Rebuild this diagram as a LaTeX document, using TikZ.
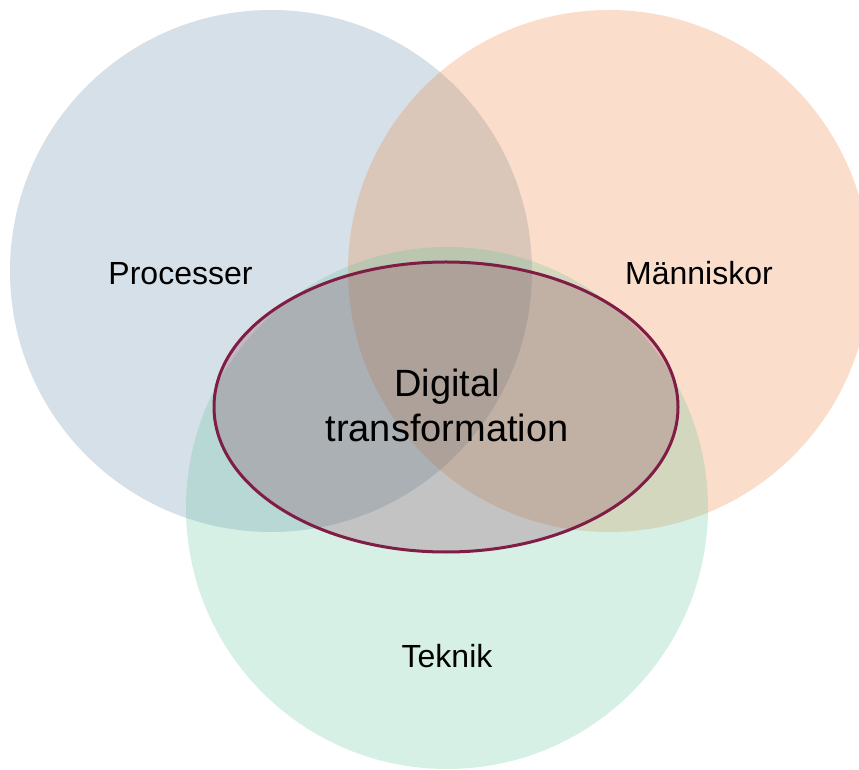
\documentclass[tikz,border=0pt]{standalone}
\usepackage{fontspec}
\setmainfont{Liberation Sans}
\definecolor{cblue}{HTML}{5B83A3}
\definecolor{corange}{HTML}{ED7D31}
\definecolor{cgreen}{HTML}{5BC397}
\definecolor{maroon}{HTML}{7F1D45}
\begin{document}
\begin{tikzpicture}[x=1pt,y=1pt,
  venn/.style={fill opacity=0.25, draw=none},
  lbl/.style={anchor=base, inner sep=0pt, font=\fontsize{32}{38}\selectfont, text=black}]
\useasboundingbox (0,0) rectangle (859,769);
\fill[venn, cblue] (271,498) circle[radius=261];
\fill[venn, corange] (609,498) circle[radius=261];
\fill[venn, cgreen] (447,261) circle[radius=261];
\node[lbl] (proc) at (180.5,484) {Processer};
\node[lbl] (mann) at (699,484) {Människor};
\node[lbl] (tek) at (447,102) {Teknik};
\draw[draw=maroon, line width=3pt, fill=maroon, fill opacity=0.21, draw opacity=1] (446,362) ellipse[x radius=232, y radius=145];
\node[align=center, inner sep=0pt, font=\fontsize{38}{45}\selectfont, text=black] (dt) at (447,363.5) {Digital\\transformation};
\end{tikzpicture}
\end{document}
